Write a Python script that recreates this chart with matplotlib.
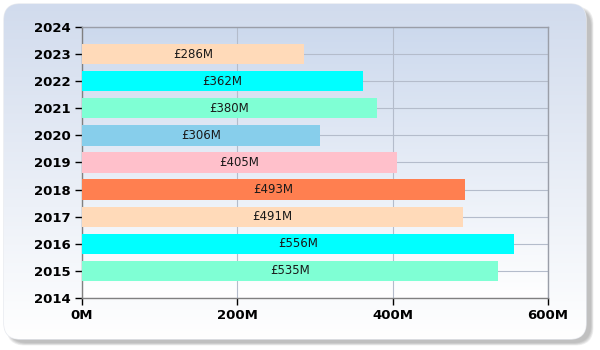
import numpy as np
import matplotlib
matplotlib.use("Agg")
import matplotlib.pyplot as plt
from matplotlib.patches import FancyBboxPatch

# Yearly totals in £ millions
years = [2015, 2016, 2017, 2018, 2019, 2020, 2021, 2022, 2023]
values = [535, 556, 491, 493, 405, 306, 380, 362, 286]
colors = ["#7FFFD4", "#00FFFF", "#FFDAB9", "#FF7F50", "#FFC0CB",
          "#87CEEB", "#7FFFD4", "#00FFFF", "#FFDAB9"]
x_ticks = [0, 200, 400, 600]
x_tick_labels = ["0M", "200M", "400M", "600M"]
y_ticks = list(range(2014, 2025))

fig = plt.figure(figsize=(6, 3.5), dpi=100)
fig.patch.set_facecolor("white")

# rounded panel with a soft drop shadow behind the chart
bg = fig.add_axes([0, 0, 1, 1], zorder=0)
bg.set_xlim(0, 600)
bg.set_ylim(350, 0)
bg.axis("off")
for i in range(6):
    grow = 5 - i
    bg.add_patch(FancyBboxPatch((9 - grow * 0.5, 9 - grow * 0.5), 582 + grow, 334 + grow,
                                boxstyle="round,pad=0,rounding_size=18",
                                facecolor="#707070", edgecolor="none", alpha=0.09))
panel = FancyBboxPatch((4, 4), 582, 335, boxstyle="round,pad=0,rounding_size=16",
                       facecolor="white", edgecolor="#e6e9ee", linewidth=1)
bg.add_patch(panel)
grad = np.linspace(0, 1, 256).reshape(-1, 1)
top = np.array([0.82, 0.86, 0.93])
bottom = np.array([1.0, 1.0, 1.0])
img = top + (bottom - top) * grad[..., None]
im = bg.imshow(img, extent=[4, 586, 339, 4], aspect="auto", zorder=3)
im.set_clip_path(panel)

ax = fig.add_axes([0.1367, 0.1486, 0.7766, 0.7743], zorder=1)
ax.patch.set_alpha(0)
ptop = np.array([0.80, 0.85, 0.93])
pimg = ptop + (bottom - ptop) * grad[..., None]
ax.imshow(pimg, extent=[0, 1, 0, 1], transform=ax.transAxes, aspect="auto", zorder=0)

ax.barh(years, values, height=0.75, color=colors, zorder=3)
for y, v in zip(years, values):
    ax.text(v / 2, y, f"£{v}M", ha="center", va="center", fontsize=8.5,
            color="#1a1a1a", zorder=4)

ax.set_xlim(0, 600)
ax.set_ylim(2014, 2024)
ax.set_xticks(x_ticks)
ax.set_xticklabels(x_tick_labels)
ax.set_yticks(y_ticks)
ax.grid(True, color="#b4bccb", linewidth=0.8, zorder=1)
ax.set_axisbelow(True)
for s in ax.spines.values():
    s.set_color("#9a9ea8")
    s.set_linewidth(1)
ax.spines["left"].set_color("#808080")
ax.spines["bottom"].set_color("#808080")
ax.tick_params(axis="both", length=5, width=1, color="black", labelsize=9.5, pad=3)
for lbl in ax.get_xticklabels() + ax.get_yticklabels():
    lbl.set_fontweight("bold")

fig.savefig("out.png", dpi=100)
